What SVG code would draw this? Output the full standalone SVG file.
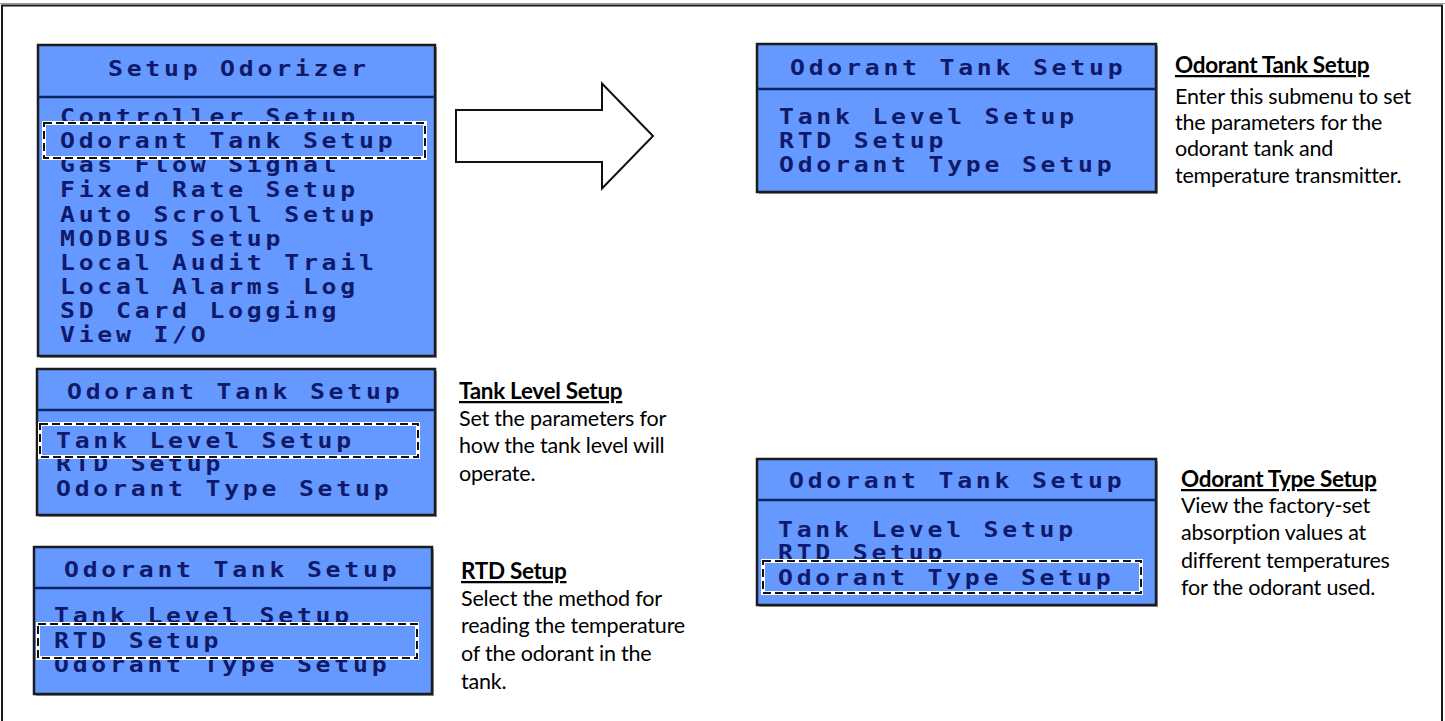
<svg xmlns="http://www.w3.org/2000/svg" width="1445" height="721" viewBox="0 0 1445 721">
<style>
.scr{fill:#6699ff;stroke:#1c1c1c;stroke-width:2.5}
.shd{fill:#9a9a9a}
.div{stroke:#0d2466;stroke-width:2.5}
.lcd{font-family:"DejaVu Sans Mono",monospace;font-weight:bold;font-size:21px;letter-spacing:3.2px;fill:#0f1a6b}
.hl1{fill:#6699ff;stroke:#ffffff;stroke-width:4}
.hl2{fill:none;stroke:#111111;stroke-width:2;stroke-dasharray:8 4}
.ttl{font-family:Lato,"Liberation Sans",sans-serif;font-weight:bold;font-size:22.5px;fill:#000;text-decoration:underline;letter-spacing:-0.3px}
.dsc{font-family:Lato,"Liberation Sans",sans-serif;font-size:21.5px;fill:#000;letter-spacing:-0.2px}
</style>
<rect width="1445" height="721" fill="#ffffff"/>
<line x1="0" y1="3.5" x2="1445" y2="3.5" stroke="#999" stroke-width="1"/>
<rect x="2" y="5.5" width="1440" height="730" fill="none" stroke="#1a1a1a" stroke-width="2"/>

<g id="menu-setup-odorizer">
<rect x="40" y="47" width="397" height="311" class="shd"/>
<rect x="38" y="45" width="397" height="311" class="scr"/>
<line x1="38" y1="97" x2="435" y2="97" class="div"/>
<text transform="translate(108,76) scale(1.18,1)" class="lcd">Setup Odorizer</text>
<text transform="translate(60,124) scale(1.18,1)" class="lcd">Controller Setup</text>
<text transform="translate(60,172) scale(1.18,1)" class="lcd">Gas Flow Signal</text>
<text transform="translate(60,197) scale(1.18,1)" class="lcd">Fixed Rate Setup</text>
<text transform="translate(60,222) scale(1.18,1)" class="lcd">Auto Scroll Setup</text>
<text transform="translate(60,246) scale(1.18,1)" class="lcd">MODBUS Setup</text>
<text transform="translate(60,270) scale(1.18,1)" class="lcd">Local Audit Trail</text>
<text transform="translate(60,294) scale(1.18,1)" class="lcd">Local Alarms Log</text>
<text transform="translate(60,318) scale(1.18,1)" class="lcd">SD Card Logging</text>
<text transform="translate(60,342) scale(1.18,1)" class="lcd">View I/O</text>
<rect x="44" y="123" width="381" height="35" class="hl1"/>
<rect x="44" y="123" width="381" height="35" class="hl2"/>
<text transform="translate(60,148) scale(1.18,1)" class="lcd">Odorant Tank Setup</text>
</g>

<g id="connectors">
<polygon points="456,110 602,110 602,83.5 653,136 602,188.5 602,162 456,162" fill="#ffffff" stroke="#111" stroke-width="2"/>
</g>

<g id="menu-odorant-tank">
<rect x="759" y="46" width="399" height="148" class="shd"/>
<rect x="757" y="44" width="399" height="148" class="scr"/>
<line x1="757" y1="89" x2="1156" y2="89" class="div"/>
<text transform="translate(790,75) scale(1.18,1)" class="lcd">Odorant Tank Setup</text>
<text transform="translate(779,124) scale(1.18,1)" class="lcd">Tank Level Setup</text>
<text transform="translate(779,148) scale(1.18,1)" class="lcd">RTD Setup</text>
<text transform="translate(779,172) scale(1.18,1)" class="lcd">Odorant Type Setup</text>
</g>

<g id="desc-odorant-tank">
<text x="1175" y="73" class="ttl">Odorant Tank Setup</text>
<text x="1175" y="104" class="dsc">Enter this submenu to set</text>
<text x="1175" y="130" class="dsc">the parameters for the</text>
<text x="1175" y="156" class="dsc">odorant tank and</text>
<text x="1175" y="183" class="dsc">temperature transmitter.</text>
</g>

<g id="menu-tank-level">
<rect x="39" y="371" width="398" height="146" class="shd"/>
<rect x="37" y="369" width="398" height="146" class="scr"/>
<line x1="37" y1="410" x2="435" y2="410" class="div"/>
<text transform="translate(67,399) scale(1.18,1)" class="lcd">Odorant Tank Setup</text>
<text transform="translate(56,471) scale(1.18,1)" class="lcd">RTD Setup</text>
<text transform="translate(56,496) scale(1.18,1)" class="lcd">Odorant Type Setup</text>
<rect x="40" y="424" width="378" height="33" class="hl1"/>
<rect x="40" y="424" width="378" height="33" class="hl2"/>
<text transform="translate(56,448) scale(1.18,1)" class="lcd">Tank Level Setup</text>
</g>

<g id="desc-tank-level">
<text x="459" y="399" class="ttl">Tank Level Setup</text>
<text x="459" y="426" class="dsc">Set the parameters for</text>
<text x="459" y="453" class="dsc">how the tank level will</text>
<text x="459" y="481" class="dsc">operate.</text>
</g>

<g id="menu-rtd">
<rect x="36" y="549" width="398" height="147" class="shd"/>
<rect x="34" y="547" width="398" height="147" class="scr"/>
<line x1="34" y1="588" x2="432" y2="588" class="div"/>
<text transform="translate(64,577) scale(1.18,1)" class="lcd">Odorant Tank Setup</text>
<text transform="translate(54,623) scale(1.18,1)" class="lcd">Tank Level Setup</text>
<text transform="translate(54,672) scale(1.18,1)" class="lcd">Odorant Type Setup</text>
<rect x="38" y="624" width="379" height="34" class="hl1"/>
<rect x="38" y="624" width="379" height="34" class="hl2"/>
<text transform="translate(54,648) scale(1.18,1)" class="lcd">RTD Setup</text>
</g>

<g id="desc-rtd">
<text x="461" y="579" class="ttl">RTD Setup</text>
<text x="461" y="606" class="dsc">Select the method for</text>
<text x="461" y="633" class="dsc">reading the temperature</text>
<text x="461" y="661" class="dsc">of the odorant in the</text>
<text x="461" y="689" class="dsc">tank.</text>
</g>

<g id="menu-odorant-type">
<rect x="759" y="461" width="399" height="146" class="shd"/>
<rect x="757" y="459" width="399" height="146" class="scr"/>
<line x1="757" y1="500" x2="1156" y2="500" class="div"/>
<text transform="translate(789,488) scale(1.18,1)" class="lcd">Odorant Tank Setup</text>
<text transform="translate(778,537) scale(1.18,1)" class="lcd">Tank Level Setup</text>
<text transform="translate(778,560) scale(1.18,1)" class="lcd">RTD Setup</text>
<rect x="763" y="561" width="378" height="32" class="hl1"/>
<rect x="763" y="561" width="378" height="32" class="hl2"/>
<text transform="translate(778,585) scale(1.18,1)" class="lcd">Odorant Type Setup</text>
</g>

<g id="desc-odorant-type">
<text x="1181" y="487" class="ttl">Odorant Type Setup</text>
<text x="1181" y="513" class="dsc">View the factory-set</text>
<text x="1181" y="540" class="dsc">absorption values at</text>
<text x="1181" y="568" class="dsc">different temperatures</text>
<text x="1181" y="595" class="dsc">for the odorant used.</text>
</g>
</svg>
